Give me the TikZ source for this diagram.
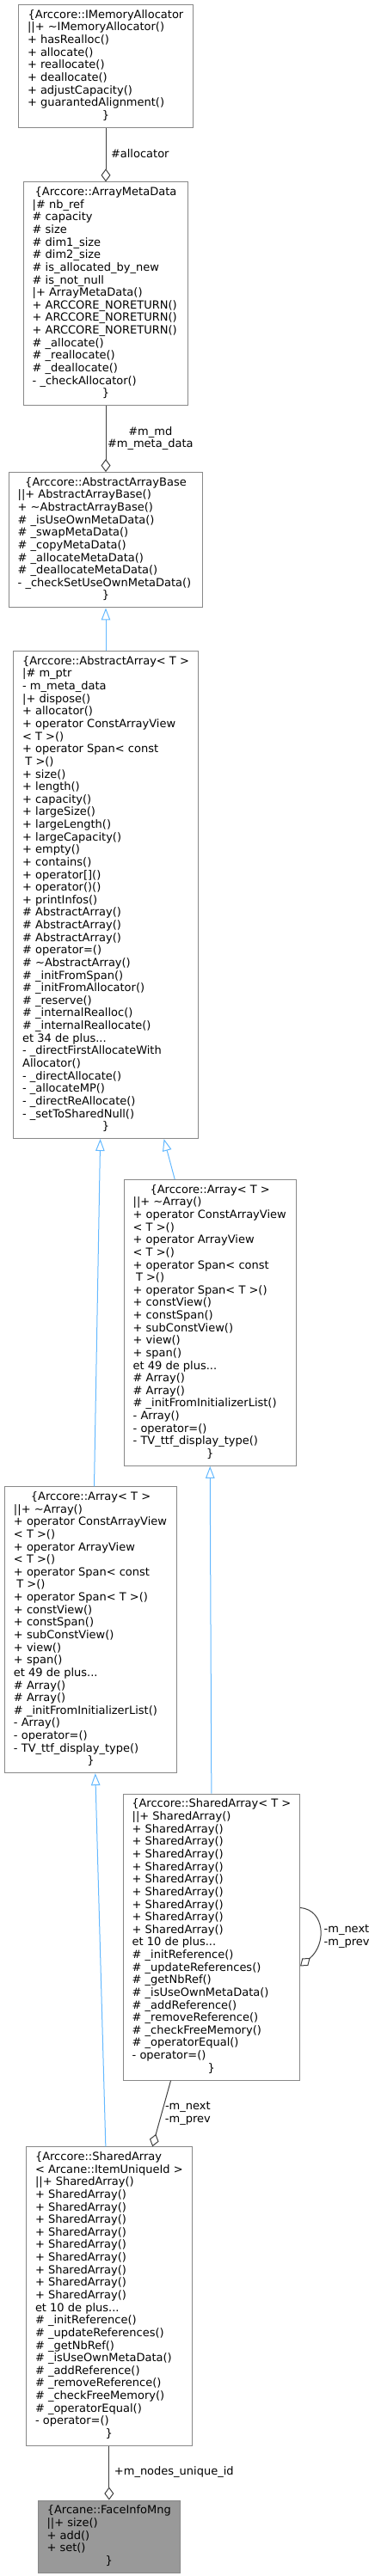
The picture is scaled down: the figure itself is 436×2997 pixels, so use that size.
\documentclass[tikz,border=0pt]{standalone}
\usepackage{fontspec}
\setmainfont{DejaVu Sans}
\usepackage{xcolor}
\usetikzlibrary{positioning, arrows.meta, calc}

\definecolor{boxline}{HTML}{888888}
\definecolor{mainfill}{HTML}{999999}
\definecolor{aggline}{HTML}{404040}
\definecolor{inhline}{HTML}{63B8FF}

\newlength{\clsw}
\newcommand{\clshead}[1]{\makebox[\clsw][c]{\strut#1}}
\newcommand{\closebr}{\makebox[\clsw][c]{\strut\}}}
\newcommand{\tl}{\textasciitilde}

% Members shared by both Array< T > boxes
\newcommand{\arraymembers}{%
||+ \tl Array()\\
+ operator ConstArrayView\\
< T >()\\
+ operator ArrayView\\
< T >()\\
+ operator Span< const\\
\hspace*{3.3pt}T >()\\
+ operator Span< T >()\\
+ constView()\\
+ constSpan()\\
+ subConstView()\\
+ view()\\
+ span()\\
et 49 de plus...\\
\# Array()\\
\# Array()\\
\# \_initFromInitializerList()\\
- Array()\\
- operator=()\\
- TV\_ttf\_display\_type()}

% Members shared by both SharedArray boxes
\newcommand{\sharedmembers}{%
||+ SharedArray()\\
+ SharedArray()\\
+ SharedArray()\\
+ SharedArray()\\
+ SharedArray()\\
+ SharedArray()\\
+ SharedArray()\\
+ SharedArray()\\
+ SharedArray()\\
+ SharedArray()\\
et 10 de plus...\\
\# \_initReference()\\
\# \_updateReferences()\\
\# \_getNbRef()\\
\# \_isUseOwnMetaData()\\
\# \_addReference()\\
\# \_removeReference()\\
\# \_checkFreeMemory()\\
\# \_operatorEqual()\\
- operator=()}

\begin{document}
\begin{tikzpicture}[x=1pt, y=-1pt,
    cls/.style={rectangle, draw=boxline, fill=white, line width=1pt, anchor=north west, align=left,
        inner xsep=10.5pt, inner ysep=5.5pt, font=\fontsize{13}{14.63}\selectfont},
    bw/.code={\setlength{\clsw}{#1}},
    aggr/.style={draw=aggline, line width=1pt, {Diamond[open, length=15pt, width=11pt]}-},
    inh/.style={draw=inhline, line width=1pt, {Triangle[open, length=14pt, width=10.5pt]}-},
    lbl/.style={inner sep=0pt, align=center, font=\fontsize{13}{14.63}\selectfont}]

    \useasboundingbox (0,0) rectangle (436,2997);

    % Allocator and meta data
    \node[cls, bw=182pt] (allocator) at (21,5) {\clshead{\{Arccore::IMemoryAllocator}\\
        ||+ \tl IMemoryAllocator()\\
        + hasRealloc()\\
        + allocate()\\
        + reallocate()\\
        + deallocate()\\
        + adjustCapacity()\\
        + guarantedAlignment()\\
        \closebr};

    \node[cls, bw=170.6pt, below=62.7pt of allocator] (meta_data) {\clshead{\{Arccore::ArrayMetaData}\\
        |\# nb\_ref\\
        \# capacity\\
        \# size\\
        \# dim1\_size\\
        \# dim2\_size\\
        \# is\_allocated\_by\_new\\
        \# is\_not\_null\\
        |+ ArrayMetaData()\\
        + ARCCORE\_NORETURN()\\
        + ARCCORE\_NORETURN()\\
        + ARCCORE\_NORETURN()\\
        \# \_allocate()\\
        \# \_reallocate()\\
        \# \_deallocate()\\
        - \_checkAllocator()\\
        \closebr};

    % Base classes
    \node[cls, bw=204.6pt, below=77pt of meta_data] (array_base) {\clshead{\{Arccore::AbstractArrayBase}\\
        ||+ AbstractArrayBase()\\
        + \tl AbstractArrayBase()\\
        \# \_isUseOwnMetaData()\\
        \# \_swapMetaData()\\
        \# \_copyMetaData()\\
        \# \_allocateMetaData()\\
        \# \_deallocateMetaData()\\
        - \_checkSetUseOwnMetaData()\\
        \closebr};

    \node[cls, bw=193.7pt, below=49.7pt of array_base] (abstract_array) {\clshead{\{Arccore::AbstractArray< T >}\\
        |\# m\_ptr\\
        - m\_meta\_data\\
        |+ dispose()\\
        + allocator()\\
        + operator ConstArrayView\\
        < T >()\\
        + operator Span< const\\
        \hspace*{3.3pt}T >()\\
        + size()\\
        + length()\\
        + capacity()\\
        + largeSize()\\
        + largeLength()\\
        + largeCapacity()\\
        + empty()\\
        + contains()\\
        + operator[]()\\
        + operator()()\\
        + printInfos()\\
        \# AbstractArray()\\
        \# AbstractArray()\\
        \# AbstractArray()\\
        \# operator=()\\
        \# \tl AbstractArray()\\
        \# \_initFromSpan()\\
        \# \_initFromAllocator()\\
        \# \_reserve()\\
        \# \_internalRealloc()\\
        \# \_internalReallocate()\\
        et 34 de plus...\\
        - \_directFirstAllocateWith\\
        Allocator()\\
        - \_directAllocate()\\
        - \_allocateMP()\\
        - \_directReAllocate()\\
        - \_setToSharedNull()\\
        \closebr};

    % Array< T > (twice)
    \node[cls, bw=179pt] (array_r) at (143.7,1372) {\clshead{\{Arccore::Array< T >}\\
        \arraymembers\\
        \closebr};
    \node[cls, bw=179pt] (array_l) at (5,1729.3) {\clshead{\{Arccore::Array< T >}\\
        \arraymembers\\
        \closebr};

    % Shared arrays
    \node[cls, bw=184.3pt] (shared_t) at (142.7,2086.7) {\clshead{\{Arccore::SharedArray< T >}\\
        \sharedmembers\\
        \closebr};
    \node[cls, bw=171.7pt] (shared_uid) at (30,2497.3) {\strut\{Arccore::SharedArray\\
        \clshead{< Arcane::ItemUniqueId >}\\
        \sharedmembers\\
        \closebr};

    % The documented class
    \node[cls, fill=mainfill, bw=144.6pt, below=62.7pt of shared_uid] (face_info) {\clshead{\{Arcane::FaceInfoMng}\\
        ||+ size()\\
        + add()\\
        + set()\\
        \closebr};

    % Inheritance
    \draw[inh] (array_base.south) -- (abstract_array.north);
    \draw[inh] ([xshift=67.6pt]abstract_array.south) -- ([xshift=-41pt]array_r.north);
    \draw[inh] ([xshift=-6.4pt]abstract_array.south) -- ([xshift=4pt]array_l.north);
    \draw[inh] (array_r.south) -- (shared_t.north);
    \draw[inh] ([xshift=5.3pt]array_l.south) -- ([xshift=-4pt]shared_uid.north);

    % Usage (aggregation)
    \draw[aggr] (meta_data.north) -- (allocator.south)
        node[lbl, pos=0.49, right=5.5pt] {\strut\#allocator\strut};
    \draw[aggr] (array_base.north) -- (meta_data.south)
        node[lbl, pos=0.5, right=1.5pt] {\strut\#m\_md\\\#m\_meta\_data\strut};
    \draw[aggr] ([yshift=-33.8pt]shared_t.east) .. controls (380,2262) and (378,2222) .. ([yshift=34.2pt]shared_t.east)
        node[lbl, pos=0.4, right=5.4pt, align=left] {\strut-m\_next\\-m\_prev\strut};
    \draw[aggr] ([xshift=50.4pt]shared_uid.north) -- ([xshift=-47.3pt]shared_t.south)
        node[lbl, pos=0.5, right=3.5pt] {\strut-m\_next\\-m\_prev\strut};
    \draw[aggr] (face_info.north) -- (shared_uid.south)
        node[lbl, pos=0.505, right=5.6pt] {\strut+m\_nodes\_unique\_id\strut};

\end{tikzpicture}
\end{document}
